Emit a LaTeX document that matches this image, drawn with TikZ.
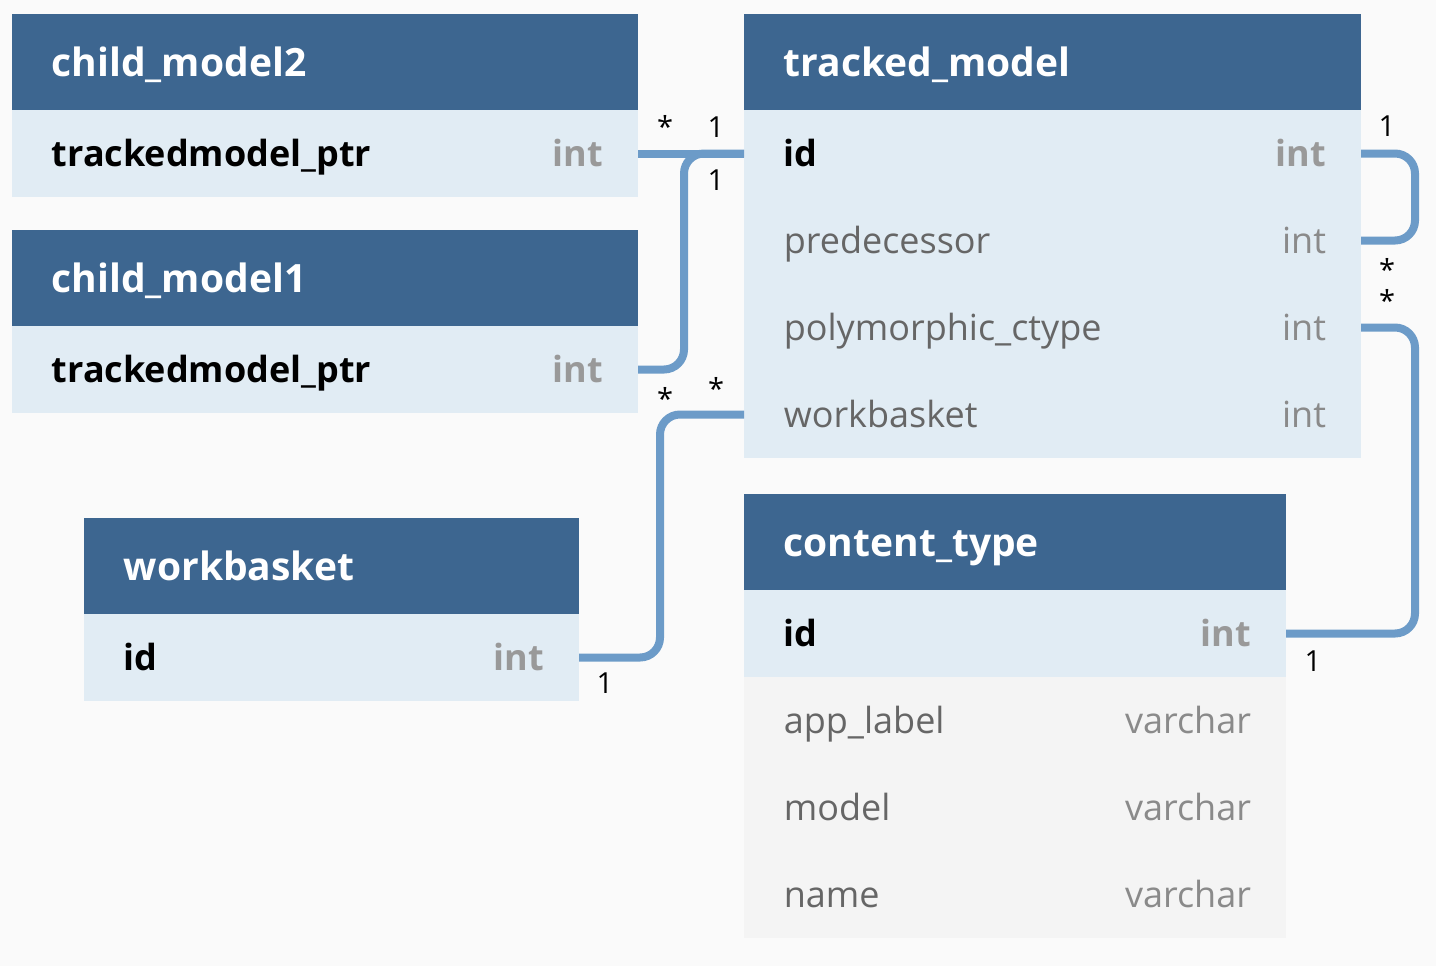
\documentclass[tikz,border=0pt]{standalone}
\usepackage{fontspec}
\setmainfont{Open Sans}
\definecolor{bgc}{HTML}{FAFAFA}
\definecolor{hdrblue}{HTML}{3D6690}
\definecolor{lightblue}{HTML}{E1ECF4}
\definecolor{lightgray}{HTML}{F4F4F4}
\definecolor{conncol}{HTML}{6C9BC8}
\definecolor{fieldgray}{HTML}{666666}
\definecolor{typegray}{HTML}{999999}
\definecolor{typegray2}{HTML}{8A8A8A}
\begin{document}
\begin{tikzpicture}[x=0.5pt,y=-0.5pt,
  hdr/.style={fill=hdrblue, anchor=north west, minimum height=48pt, inner sep=0pt, outer sep=0pt},
  keyrow/.style={fill=lightblue, anchor=north west, minimum height=43.5pt, inner sep=0pt, outer sep=0pt},
  plainrow/.style={fill=lightgray, anchor=north west, minimum height=43.5pt, inner sep=0pt, outer sep=0pt},
  htext/.style={anchor=base west, text=white, font=\fontsize{19.5}{22}\selectfont\bfseries, inner sep=0pt},
  ktext/.style={anchor=base west, text=black, font=\fontsize{18}{21}\selectfont\bfseries, inner sep=0pt},
  ftext/.style={anchor=base west, text=fieldgray, font=\fontsize{18}{21}\selectfont, inner sep=0pt},
  ktype/.style={anchor=base east, text=typegray, font=\fontsize{18}{21}\selectfont\bfseries, inner sep=0pt},
  ftype/.style={anchor=base east, text=typegray2, font=\fontsize{18}{21}\selectfont, inner sep=0pt},
  conn/.style={draw=conncol, line width=4pt, rounded corners=10pt},
  card/.style={anchor=base, text=black, font=\fontsize{14.5}{16}\selectfont, inner sep=0pt}
]
\fill[bgc] (0,0) rectangle (1436,966);
\useasboundingbox (0,0) rectangle (1436,966);

% child_model2
\node[hdr, minimum width=313pt] (c2h) at (12,14) {};
\node[keyrow, minimum width=313pt] (c2r) at (12,110) {};
\node[htext] (c2ht) at ([xshift=19.7pt,yshift=-7pt]c2h.west) {child\_model2};
\node[ktext] (c2rt) at ([xshift=19.7pt,yshift=-6.5pt]c2r.west) {trackedmodel\_ptr};
\node[ktype] (c2rty) at ([xshift=-17.3pt,yshift=-6.5pt]c2r.east) {int};

% child_model1
\node[hdr, minimum width=313pt] (c1h) at (12,230) {};
\node[keyrow, minimum width=313pt] (c1r) at (12,326) {};
\node[htext] (c1ht) at ([xshift=19.7pt,yshift=-7pt]c1h.west) {child\_model1};
\node[ktext] (c1rt) at ([xshift=19.7pt,yshift=-6.5pt]c1r.west) {trackedmodel\_ptr};
\node[ktype] (c1rty) at ([xshift=-17.3pt,yshift=-6.5pt]c1r.east) {int};

% workbasket
\node[hdr, minimum width=247.5pt] (wh) at (84,518) {};
\node[keyrow, minimum width=247.5pt] (wr) at (84,614) {};
\node[htext] (wht) at ([xshift=19.7pt,yshift=-7pt]wh.west) {workbasket};
\node[ktext] (wrt) at ([xshift=19.7pt,yshift=-6.5pt]wr.west) {id};
\node[ktype] (wrty) at ([xshift=-17.3pt,yshift=-6.5pt]wr.east) {int};

% tracked_model
\node[hdr, minimum width=308.5pt] (th) at (744,14) {};
\node[keyrow, minimum width=308.5pt] (tid) at (744,110) {};
\node[keyrow, minimum width=308.5pt] (tpred) at (744,197) {};
\node[keyrow, minimum width=308.5pt] (tpoly) at (744,284) {};
\node[keyrow, minimum width=308.5pt] (twb) at (744,371) {};
\node[htext] (tht) at ([xshift=19.7pt,yshift=-7pt]th.west) {tracked\_model};
\node[ktext] (tidt) at ([xshift=19.7pt,yshift=-6.5pt]tid.west) {id};
\node[ktype] (tidty) at ([xshift=-17.3pt,yshift=-6.5pt]tid.east) {int};
\node[ftext] (tpredt) at ([xshift=19.7pt,yshift=-6.5pt]tpred.west) {predecessor};
\node[ftype] (tpredty) at ([xshift=-17.3pt,yshift=-6.5pt]tpred.east) {int};
\node[ftext] (tpolyt) at ([xshift=19.7pt,yshift=-6.5pt]tpoly.west) {polymorphic\_ctype};
\node[ftype] (tpolyty) at ([xshift=-17.3pt,yshift=-6.5pt]tpoly.east) {int};
\node[ftext] (twbt) at ([xshift=19.7pt,yshift=-6.5pt]twb.west) {workbasket};
\node[ftype] (twbty) at ([xshift=-17.3pt,yshift=-6.5pt]twb.east) {int};

% content_type
\node[hdr, minimum width=271pt] (ch) at (744,494) {};
\node[keyrow, minimum width=271pt] (cid) at (744,590) {};
\node[plainrow, minimum width=271pt] (capp) at (744,677) {};
\node[plainrow, minimum width=271pt] (cmod) at (744,764) {};
\node[plainrow, minimum width=271pt] (cname) at (744,851) {};
\node[htext] (cht) at ([xshift=19.7pt,yshift=-7pt]ch.west) {content\_type};
\node[ktext] (cidt) at ([xshift=19.7pt,yshift=-6.5pt]cid.west) {id};
\node[ktype] (cidty) at ([xshift=-17.3pt,yshift=-6.5pt]cid.east) {int};
\node[ftext] (cappt) at ([xshift=19.7pt,yshift=-6.5pt]capp.west) {app\_label};
\node[ftype] (cappty) at ([xshift=-17.3pt,yshift=-6.5pt]capp.east) {varchar};
\node[ftext] (cmodt) at ([xshift=19.7pt,yshift=-6.5pt]cmod.west) {model};
\node[ftype] (cmodty) at ([xshift=-17.3pt,yshift=-6.5pt]cmod.east) {varchar};
\node[ftext] (cnamet) at ([xshift=19.7pt,yshift=-6.5pt]cname.west) {name};
\node[ftype] (cnamety) at ([xshift=-17.3pt,yshift=-6.5pt]cname.east) {varchar};

% connectors
\draw[conn] (c2r.east) -- (tid.west);
\draw[conn] (c1r.east) -- ++(46,0) |- (tid.west);
\draw[conn] (wr.east) -- ++(81,0) |- (twb.west);
\draw[conn] (tid.east) -- ++(54,0) |- (tpred.east);
\draw[conn] (tpoly.east) -- ++(54,0) |- (cid.east);

% cardinalities
\node[card] (l1a) at (665,137) {*};
\node[card] (l1b) at (716,137) {1};
\node[card] (l2a) at (665,409) {*};
\node[card] (l2b) at (716,190) {1};
\node[card] (l3a) at (605,693) {1};
\node[card] (l3b) at (716,399) {*};
\node[card] (l4a) at (1387,136) {1};
\node[card] (l4b) at (1387,280) {*};
\node[card] (l5a) at (1387,311) {*};
\node[card] (l5b) at (1313,671) {1};
\end{tikzpicture}
\end{document}
